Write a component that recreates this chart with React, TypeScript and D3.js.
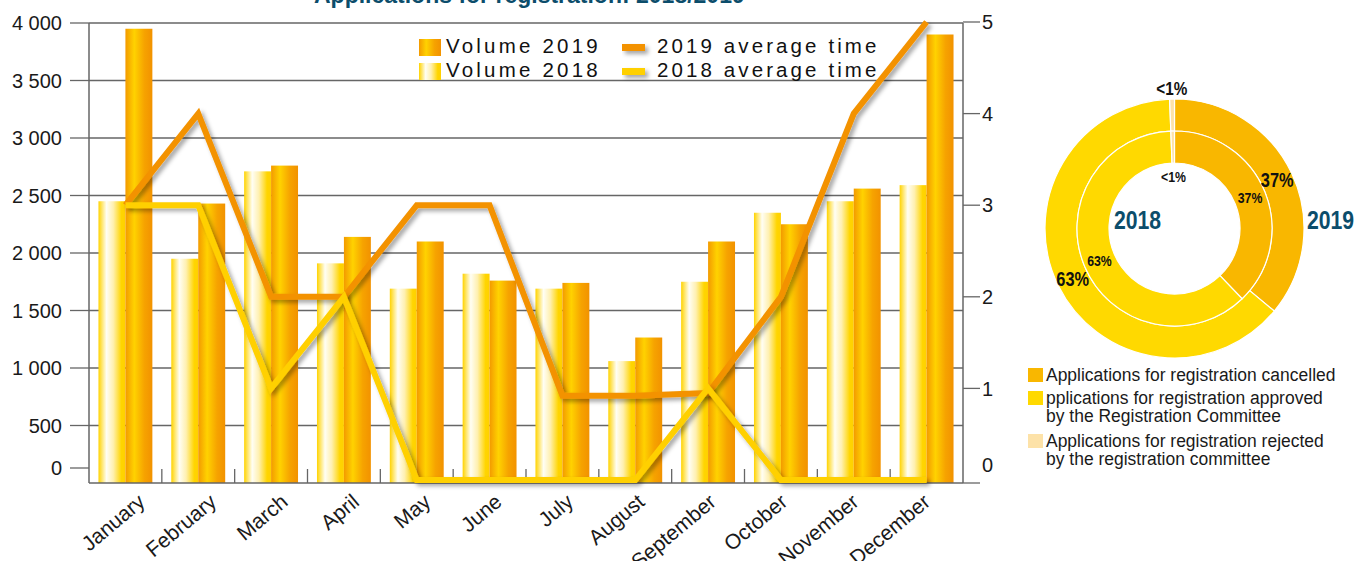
import React from 'react';
import * as d3 from 'd3';

const months = ['January','February','March','April','May','June','July','August','September','October','November','December'];
const volume2018 = [2450, 1950, 2710, 1910, 1690, 1820, 1690, 1060, 1750, 2350, 2450, 2590];
const volume2019 = [3950, 2430, 2760, 2140, 2100, 1760, 1740, 1265, 2100, 2250, 2560, 3900];
const avgTime2019 = [3, 4, 2, 2, 3, 3, 0.92, 0.92, 0.95, 2, 4, 5];
const avgTime2018 = [3, 3, 1, 2, 0, 0, 0, 0, 1, 0, 0, 0];
const leftTicks = [0, 500, 1000, 1500, 2000, 2500, 3000, 3500, 4000];
const rightTicks = [0, 1, 2, 3, 4, 5];
const barSeries = ['2018', '2019'];
const legendLeft = ['Volume 2019', 'Volume 2018'];
const legendRight = ['2019 average time', '2018 average time'];

const donutCategories = [
  ['Applications for registration cancelled'],
  ['pplications for registration approved', 'by the Registration Committee'],
  ['Applications for registration rejected', 'by the registration committee'],
];
const share2019 = [36, 63.4, 0.6];
const share2018 = [37.8, 61.6, 0.6];
const shareLabels = ['37%', '63%', '<1%'];
const donutColors = ['#f9b700', '#ffd900', '#fde2a8'];

const title = 'Applications for registration: 2018/2019';

const W = 1368, H = 561;
const plot = { left: 89, right: 963, top: 23, bottom: 483 };
const ORANGE = '#f39200';
const YELLOW = '#ffd000';
const TEAL = '#0c4d6b';
const AX = '#666';
const FONT = '"Liberation Sans", Arial, sans-serif';

const fmt = d3.formatLocale({ decimal: '.', thousands: '\u00a0', grouping: [3], currency: ['', ''] }).format(',');

function CText(props: { x: number; y: number; sx: number; size: number; bold?: boolean; fill?: string; anchor?: string; dy?: string; children: React.ReactNode }) {
  const { x, y, sx, size, bold, fill, anchor, dy, children } = props;
  return (
    <text transform={`translate(${x},${y}) scale(${sx},1)`} dy={dy} textAnchor={anchor || 'start'} fontFamily={FONT} fontWeight={bold ? 'bold' : 'normal'} fontSize={size} fill={fill || '#111'}>
      {children}
    </text>
  );
}

export default function App() {
  const x = d3.scaleBand<string>().domain(months).range([plot.left, plot.right]).paddingInner(0.26).paddingOuter(0.13);
  const xs = d3.scaleBand<string>().domain(barSeries).range([0, x.bandwidth()]);
  const step = x.step();
  const yL = d3.scaleLinear().domain([0, 4000]).range([plot.bottom, plot.top]);
  const yR = d3.scaleLinear().domain([0, 5]).range([480, 22]);
  const cx = (m: string) => (x(m) as number) + x.bandwidth() / 2;
  const xLabel = d3.scalePoint<string>().domain(months).range([cx(months[0]) + 21, cx(months[11]) + 5]);

  const line = d3.line<number>().x((_, i) => cx(months[i])).y((d) => yR(d));

  // donut
  const dc = { x: 1174.5, y: 228.5 };
  const rIn0 = 65.5, rMid = 97.5, rOut = 129.5;
  const pie = d3.pie<number>().sort(null).value((d) => d);
  const arcsOuter = pie(share2019);
  const arcsInner = pie(share2018);
  const arcOuter = d3.arc<d3.PieArcDatum<number>>().innerRadius(rMid).outerRadius(rOut);
  const arcInner = d3.arc<d3.PieArcDatum<number>>().innerRadius(rIn0).outerRadius(rMid);
  const polar = (a: number, r: number) => [Math.sin(a) * r, -Math.cos(a) * r];

  return (
    <svg width={W} height={H} style={{ position: 'absolute', left: 0, top: 0, background: '#fff' }}>
      <defs>
        <linearGradient id="g2019" x1="0" x2="1" y1="0" y2="0">
          <stop offset="0" stopColor="#f39a00" />
          <stop offset="0.33" stopColor="#ffd200" />
          <stop offset="0.7" stopColor="#f6a300" />
          <stop offset="1" stopColor="#f29200" />
        </linearGradient>
        <linearGradient id="g2018" x1="0" x2="1" y1="0" y2="0">
          <stop offset="0" stopColor="#ffd300" />
          <stop offset="0.3" stopColor="#fffef4" />
          <stop offset="0.55" stopColor="#fff0b0" />
          <stop offset="0.85" stopColor="#ffd500" />
          <stop offset="1" stopColor="#ffd000" />
        </linearGradient>
        <filter id="shadow" filterUnits="userSpaceOnUse" x="0" y="0" width={W} height={H}>
          <feDropShadow dx="3" dy="3" stdDeviation="2" floodColor="#000" floodOpacity="0.35" />
        </filter>
      </defs>

      {/* title */}
      <text x={314} y={3} fontFamily={FONT} fontWeight="bold" fontSize={23} fill={TEAL}>{title}</text>

      {/* gridlines */}
      {leftTicks.filter((t) => t > 0).map((t) => (
        <line key={'g' + t} x1={plot.left} x2={plot.right} y1={yL(t)} y2={yL(t)} stroke={AX} strokeWidth={1.3} />
      ))}

      {/* bars */}
      {months.map((m, i) => (
        <g key={m} transform={`translate(${x(m)},0)`}>
          <rect x={xs('2018')} y={yL(volume2018[i])} width={xs.bandwidth()} height={yL(0) - yL(volume2018[i])} fill="url(#g2018)" />
          <rect x={xs('2019')} y={yL(volume2019[i])} width={xs.bandwidth()} height={yL(0) - yL(volume2019[i])} fill="url(#g2019)" />
        </g>
      ))}

      {/* axes */}
      <line x1={plot.left} x2={plot.left} y1={plot.top} y2={plot.bottom} stroke={AX} strokeWidth={1.5} />
      <line x1={plot.right} x2={plot.right} y1={plot.top} y2={plot.bottom} stroke={AX} strokeWidth={1.5} />
      <line x1={plot.left} x2={plot.right} y1={plot.bottom} y2={plot.bottom} stroke={AX} strokeWidth={1.5} />
      {months.slice(1).map((m) => (
        <line key={'t' + m} x1={x(m)! - step * 0.13} x2={x(m)! - step * 0.13} y1={plot.bottom} y2={plot.bottom - 14} stroke={AX} strokeWidth={1.3} />
      ))}
      {leftTicks.map((t) => {
        const yy = t === 0 ? yL(t) - 15 : yL(t);
        return (
          <g key={'l' + t}>
            <line x1={70} x2={plot.left} y1={yy} y2={yy} stroke={AX} strokeWidth={1.3} />
            <text x={62} y={yy} dy="0.36em" textAnchor="end" fontFamily={FONT} fontSize={20} fill="#1a1a1a">{fmt(t)}</text>
          </g>
        );
      })}
      {rightTicks.map((t) => {
        const ty = t === 0 ? plot.bottom : yR(t);
        const ly = t === 0 ? 465 : yR(t);
        return (
          <g key={'r' + t}>
            <line x1={plot.right} x2={980} y1={ty} y2={ty} stroke={AX} strokeWidth={1.3} />
            <text x={982} y={ly} dy="0.36em" fontFamily={FONT} fontSize={20} fill="#1a1a1a">{t}</text>
          </g>
        );
      })}
      {months.map((m) => (
        <text key={'x' + m} transform={`translate(${xLabel(m)},${plot.bottom + 21}) rotate(-40)`} textAnchor="end" fontFamily={FONT} fontSize={21} fill="#1a1a1a">{m}</text>
      ))}

      {/* lines */}
      <path d={line(avgTime2019) || ''} fill="none" stroke={ORANGE} strokeWidth={6} strokeLinejoin="miter" filter="url(#shadow)" />
      <path d={line(avgTime2018) || ''} fill="none" stroke={YELLOW} strokeWidth={6} strokeLinejoin="miter" filter="url(#shadow)" />

      {/* legend */}
      {legendLeft.map((l, i) => (
        <g key={l} transform={`translate(419,${39 + i * 24})`}>
          <rect width={22} height={17} fill={i === 0 ? 'url(#g2019)' : 'url(#g2018)'} />
          <text x={27} y={14} fontFamily={FONT} fontSize={20.5} letterSpacing={3.2} fill="#111">{l}</text>
        </g>
      ))}
      {legendRight.map((l, i) => (
        <g key={l} transform={`translate(622,${39 + i * 24})`}>
          <rect y={5} width={23} height={7} fill={i === 0 ? ORANGE : YELLOW} filter="url(#shadow)" />
          <text x={35} y={14} fontFamily={FONT} fontSize={20.5} letterSpacing={3.1} fill="#111">{l}</text>
        </g>
      ))}

      {/* donut */}
      <g transform={`translate(${dc.x},${dc.y})`}>
        {arcsOuter.map((a, i) => (
          <path key={'o' + i} d={arcOuter(a) || ''} fill={donutColors[i]} stroke="#fff" strokeWidth={1.2} />
        ))}
        {arcsInner.map((a, i) => (
          <path key={'i' + i} d={arcInner(a) || ''} fill={donutColors[i]} stroke="#fff" strokeWidth={1.2} />
        ))}
        {arcsOuter.map((a, i) => {
          const small = i === 2;
          const mid = (a.startAngle + a.endAngle) / 2;
          const [px, py] = small ? polar(mid, rOut + 11) : arcOuter.centroid(a);
          return (
            <CText key={'ol' + i} x={px} y={py} dy="0.36em" anchor="middle" bold sx={small ? 0.85 : 0.82} size={small ? 18 : 20}>{shareLabels[i]}</CText>
          );
        })}
        {arcsInner.map((a, i) => {
          const small = i === 2;
          const mid = (a.startAngle + a.endAngle) / 2;
          const [px, py] = small ? polar(mid, rIn0 - 14) : arcInner.centroid(a);
          return (
            <CText key={'il' + i} x={px} y={py} dy="0.36em" anchor="middle" bold sx={0.82} size={15}>{shareLabels[i]}</CText>
          );
        })}
        <CText x={-37} y={-9} dy="0.36em" anchor="middle" bold sx={0.8} size={26.5} fill={TEAL}>2018</CText>
        <CText x={156} y={-9} dy="0.36em" anchor="middle" bold sx={0.8} size={26.5} fill={TEAL}>2019</CText>
      </g>

      {/* donut legend */}
      {donutCategories.map((lines, i) => {
        const ys = [381, 404, 447][i];
        return (
          <g key={'dl' + i}>
            <rect x={1028} y={ys - 13} width={15} height={14} fill={donutColors[i]} />
            {lines.map((t, j) => (
              <CText key={j} x={1046} y={ys + j * 18} sx={0.92} size={19} fill="#1a1a1a">{t}</CText>
            ))}
          </g>
        );
      })}
    </svg>
  );
}
